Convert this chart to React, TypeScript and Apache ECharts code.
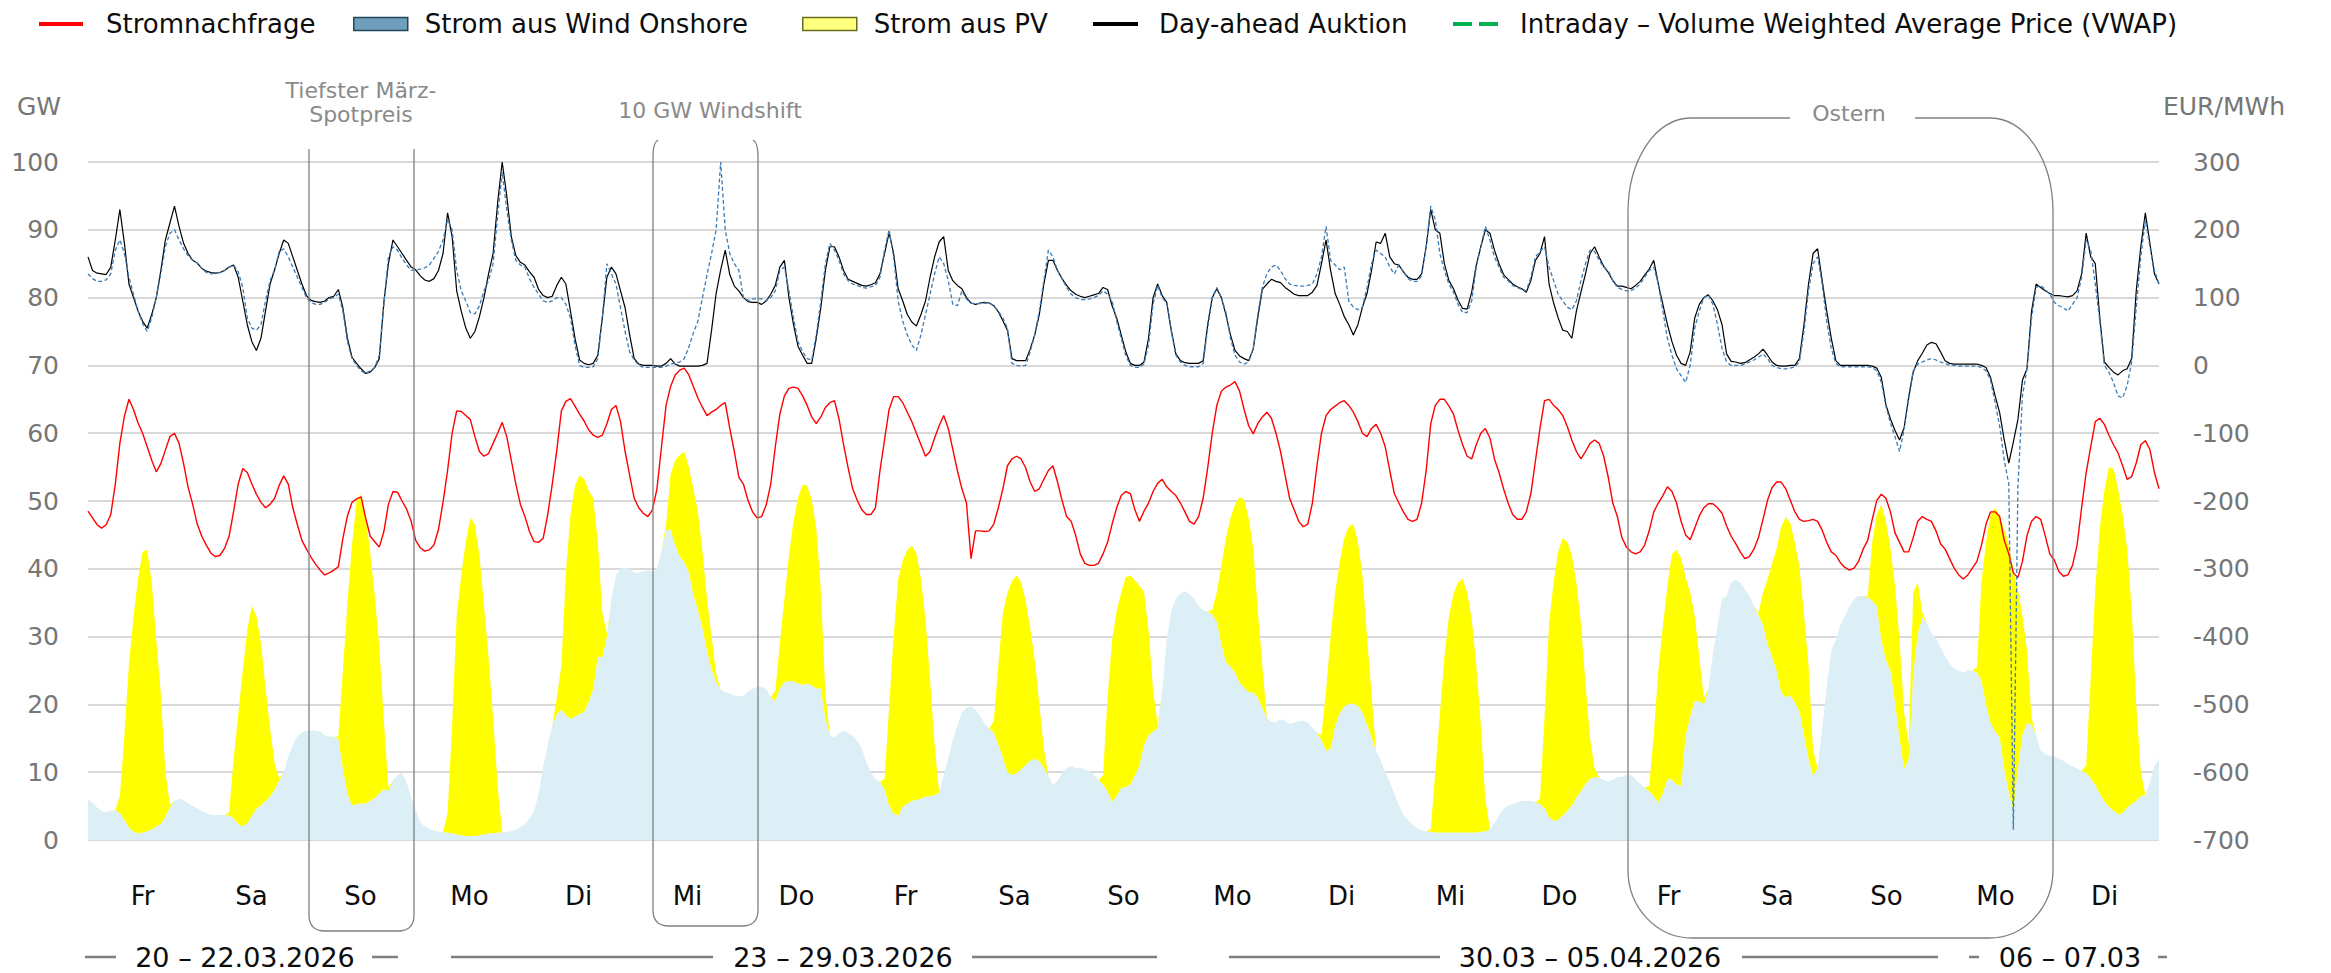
import React, { useEffect, useRef } from "react";
import * as echarts from "echarts";

const FONT = '"DejaVu Sans", "Liberation Sans", sans-serif';

// ---------- categories ----------
const dayNames = ["Fr", "Sa", "So", "Mo", "Di", "Mi", "Do", "Fr", "Sa", "So", "Mo", "Di", "Mi", "Do", "Fr", "Sa", "So", "Mo", "Di"];
const dayDates = ["20.03", "21.03", "22.03", "23.03", "24.03", "25.03", "26.03", "27.03", "28.03", "29.03", "30.03", "31.03", "01.04", "02.04", "03.04", "04.04", "05.04", "06.04", "07.04"];
const weekRangeLabels = ["20 – 22.03.2026", "23 – 29.03.2026", "30.03 – 05.04.2026", "06 – 07.03"];
const annotationLabels = ["Tiefster März-", "Spotpreis", "10 GW Windshift", "Ostern"];

// ---------- hourly values (one row per day, 24 values) ----------
// Stromnachfrage, GW
const demandGW = [
  48.5, 47.5, 46.5, 46, 46.5, 48, 52.5, 58.5, 62.5, 65, 63.5, 61.5, 60, 58, 56, 54.3, 55.5, 57.5, 59.5, 60, 58.5, 55.5, 52, 49.5,
  46.6, 44.8, 43.5, 42.3, 41.8, 42, 43, 44.8, 48.5, 52.5, 54.8, 54.2, 52.5, 51, 49.8, 49, 49.5, 50.4, 52.3, 53.7, 52.5, 49, 46.5, 44.2,
  42.9, 41.7, 40.7, 39.8, 39.1, 39.4, 39.8, 40.3, 44.5, 47.8, 49.8, 50.3, 50.6, 47.5, 44.8, 44, 43.2, 45.5, 49.5, 51.4, 51.3, 50, 48.8, 47,
  44.2, 43.1, 42.6, 42.8, 43.5, 45.8, 49.8, 54.5, 60, 63.3, 63.2, 62.6, 62, 59.5, 57.3, 56.6, 57, 58.5, 60, 61.6, 59.5, 56, 52.5, 49.5,
  47.7, 45.5, 44, 43.9, 44.5, 48, 52.5, 57.5, 63.3, 64.7, 65.1, 64, 62.8, 61.8, 60.5, 59.7, 59.4, 59.7, 61.4, 63.5, 64.1, 61.7, 57.3, 53.8,
  50.4, 49, 48.2, 47.7, 48.7, 51.8, 58, 64.1, 66.9, 68.6, 69.3, 69.6, 68.6, 66.9, 65.2, 63.8, 62.6, 63.1, 63.5, 64.1, 64.5, 60.7, 57.3, 53.5,
  52.5, 50.1, 48.4, 47.5, 47.7, 49.4, 52.5, 58, 62.8, 65.5, 66.6, 66.8, 66.6, 65.5, 64.1, 62.4, 61.4, 62.4, 63.8, 64.5, 64.8, 62.1, 58.3, 54.9,
  51.8, 50.1, 48.7, 48, 48, 49, 54.5, 59, 63.5, 65.4, 65.4, 64.5, 63.1, 61.7, 60, 58.3, 56.6, 57.3, 59.3, 61.1, 62.6, 60.7, 57.6, 54.5,
  51.8, 49.7, 41.5, 45.6, 45.6, 45.5, 45.6, 46.6, 49, 51.8, 55.2, 56.2, 56.6, 56.2, 54.9, 52.8, 51.4, 51.8, 53.2, 54.5, 55.2, 52.8, 50.1, 47.7,
  47, 44.9, 42.2, 40.8, 40.5, 40.5, 40.8, 42.2, 43.9, 46.6, 49, 50.8, 51.4, 51.1, 48.7, 47, 48.5, 49.7, 51.4, 52.6, 53.2, 52.1, 51.4, 50.8,
  49.7, 48.4, 47, 46.6, 47.7, 50.4, 54.9, 60, 64.1, 66.2, 66.8, 67.1, 67.6, 66.2, 63.5, 61.1, 59.9, 61.4, 62.4, 63.1, 62.2, 60, 57.3, 53.8,
  50.4, 48.7, 47, 46.2, 46.6, 49.7, 55.2, 60, 62.6, 63.5, 64, 64.5, 64.8, 64.1, 63.1, 61.7, 60, 59.5, 60.7, 61.3, 60, 58, 54.5, 51.1,
  49.7, 48.4, 47.3, 47, 47.3, 49.7, 54.5, 61.4, 64.1, 65, 65, 64, 62.8, 60.4, 58.3, 56.6, 56.2, 58.3, 60, 60.7, 59.3, 56.2, 54.2, 51.8,
  49.7, 48, 47.3, 47.3, 48.4, 51.1, 55.9, 60.7, 64.8, 65, 64.1, 63.5, 62.6, 61, 59, 57.3, 56.2, 57.3, 58.5, 59, 58.5, 56.6, 53.5, 49.7,
  47.7, 44.6, 43.2, 42.5, 42.2, 42.5, 43.5, 45.6, 48.4, 49.7, 50.8, 52.1, 51.4, 49.7, 47, 45, 44.3, 46, 47.8, 49, 49.6, 49.6, 49, 48.2,
  46.3, 44.8, 43.7, 42.5, 41.5, 41.8, 42.9, 44.6, 47.3, 50.1, 52, 52.8, 52.8, 51.8, 50.1, 48.4, 47.3, 47, 47.1, 47.3, 47, 45.7, 43.9, 42.5,
  42, 40.9, 40.2, 39.8, 40.1, 41.1, 42.9, 44.2, 47.3, 50.1, 51, 50.4, 48.4, 45.3, 43.9, 42.5, 42.5, 44.6, 47, 47.7, 47.3, 47, 45.6, 43.7,
  42.9, 41.5, 40.1, 39.1, 38.5, 39.1, 40.1, 41.1, 43.5, 46.6, 48.4, 48.4, 47.7, 44.2, 42.2, 39.4, 38.7, 41.1, 44.9, 47, 47.7, 47.3, 44.9, 42.2,
  41.3, 39.6, 38.9, 39.1, 40.5, 43.5, 49, 54.2, 58, 61.7, 62.2, 61.3, 59.7, 58.3, 57.1, 55.2, 53.2, 53.6, 55.6, 58.3, 58.9, 57.6, 54.2, 51.8,
];

// Strom aus Wind Onshore, GW
const windOnshoreGW = [
  6, 5.5, 4.8, 4.3, 4.1, 4.3, 4.4, 4, 3, 1.8, 1.2, 1, 1.1, 1.3, 1.6, 2, 2.4, 3.4, 4.8, 5.8, 6.1, 5.9, 5.4, 5,
  4.7, 4.3, 4, 3.7, 3.7, 3.7, 3.7, 3.6, 3.2, 2.4, 2, 2.5, 3.6, 4.6, 5.1, 5.8, 6.4, 7.4, 8.8, 9.9, 12.3, 14, 15.3, 15.9,
  16.1, 16.2, 16.1, 16, 15.4, 15.3, 15.2, 15, 10.5, 6.8, 5.1, 5.3, 5.4, 5.4, 5.8, 6.2, 6.9, 7.5, 7.3, 8.8, 9.6, 9.9, 8.5, 6.3,
  4.4, 2.6, 2, 1.6, 1.4, 1.2, 1.1, 1.1, 1, 0.8, 0.7, 0.6, 0.6, 0.6, 0.7, 0.8, 1, 1, 1.1, 1.1, 1.2, 1.3, 1.5, 1.9,
  2.3, 3.2, 4.2, 6.8, 10.8, 14, 16.9, 18.6, 19.2, 18.4, 17.9, 18.2, 18.6, 18.9, 20.4, 22.3, 27, 27, 30, 35.5, 39, 40, 40.1, 40,
  39.4, 39.4, 39.6, 39.8, 39.6, 40, 42.6, 45.7, 45.8, 43.5, 41.8, 41, 39.5, 36.2, 33.9, 31.2, 27.9, 25.2, 23.3, 22.2, 21.8, 21.6, 21.3, 21.2,
  21.2, 21.9, 22.3, 22.6, 22.6, 22.3, 21, 20.5, 22.3, 23.3, 23.5, 23.4, 23.1, 22.9, 23.1, 22.8, 22.4, 22.3, 18, 15.4, 15.1, 15.8, 16.1, 15.8,
  15.4, 14.6, 13.5, 11.5, 10, 9, 8.6, 7.5, 5.1, 3.9, 3.6, 4.9, 5.4, 5.8, 5.9, 6.1, 6.4, 6.5, 6.6, 7, 9.5, 12, 14.8, 16.8,
  18.8, 19.5, 19.7, 19.2, 18.2, 17.1, 16.4, 15.9, 14, 12.2, 10, 9.6, 9.9, 10.4, 11.1, 11.7, 12, 11.6, 10.7, 9.4, 8.1, 8.7, 9.9, 10.6,
  10.9, 10.6, 10.6, 10.4, 10.1, 9.6, 8.9, 8.2, 7.2, 5.6, 6.5, 7.7, 7.8, 8.2, 9.5, 11, 14, 15.4, 16, 16.5, 21.9, 29.5, 33.9, 35.6,
  36.3, 36.7, 36.3, 35.6, 34.6, 33.9, 33.7, 33.3, 32.2, 29, 26.2, 25.6, 24.7, 23.2, 22.5, 21.8, 21.8, 21, 19.5, 18, 17.4, 17.4, 17.8, 17.6,
  17.1, 17.3, 17.6, 17.6, 17.3, 16.6, 15.8, 14.7, 13.2, 13.5, 16.8, 18.7, 19.7, 20.1, 20.1, 19.8, 18.8, 17, 15.2, 13.1, 11.8, 10, 8.5, 6.9,
  5.1, 3.7, 3, 2.2, 1.8, 1.4, 1.3, 1.2, 1.1, 1.1, 1.1, 1.1, 1.1, 1.1, 1.1, 1.1, 1.1, 1.1, 1.2, 1.3, 1.6, 2.5, 3.6, 4.6,
  5.1, 5.3, 5.5, 5.8, 5.8, 5.8, 5.6, 5.3, 4.7, 3.4, 2.8, 3, 3.6, 4.3, 5.1, 6.3, 7.2, 8.3, 9, 9.3, 9.3, 8.8, 8.6, 8.9,
  9.3, 9.3, 9.7, 9.6, 9, 8.3, 7.7, 7.2, 6.5, 5.5, 6.9, 9, 8.9, 8.2, 8, 15.4, 18.2, 20.5, 20.5, 20, 22.3, 27.5, 31.5, 35.5,
  36, 38, 38.4, 38, 37, 36, 34.6, 33.2, 31.7, 29, 27, 25, 21.8, 21, 21.3, 20.3, 19, 15.5, 12, 9.5, 10.6, 16.5, 22.5, 28,
  29.5, 31.7, 33, 34.5, 35.5, 36, 36, 35.8, 35.3, 34.5, 29.5, 26.6, 25, 20.3, 15, 10.5, 12, 24.5, 30.5, 32.8, 32, 30.5, 29.8, 28.4,
  27.1, 26, 25.3, 25, 24.7, 25, 25, 24.7, 23.5, 20, 17.3, 16, 15.2, 10.5, 7, 4.4, 10.5, 15.5, 17.3, 17, 15.5, 13.2, 12.7, 12.4,
  12.3, 12, 11.7, 11.2, 10.9, 10.5, 10.2, 9.9, 9.1, 8.1, 6.8, 5.7, 4.9, 4.3, 3.8, 4, 4.8, 5.3, 5.8, 6.5, 6.6, 8.5, 11, 12,
];

// Strom aus PV, GW (drawn stacked on wind)
const pvGW = [
  0, 0, 0, 0, 0, 0, 0, 2.5, 12.4, 24.2, 31.8, 37.5, 41.4, 41.5, 36.4, 27.5, 19.1, 6.6, 0.4, 0, 0, 0, 0, 0,
  0, 0, 0, 0, 0, 0, 0, 0.5, 8.8, 16.1, 23, 28.5, 30.9, 28.4, 23.9, 16.7, 10.1, 3.9, 0.3, 0, 0, 0, 0, 0,
  0, 0, 0, 0, 0, 0, 0, 0.3, 14.5, 28.2, 38.4, 44.7, 45.6, 42.1, 36.7, 29.8, 21.6, 10, 0.5, 0, 0, 0, 0, 0,
  0, 0, 0, 0, 0, 0, 0, 2.9, 16, 32.2, 38.3, 43.4, 46.9, 45.9, 41.3, 33.7, 26, 17, 6.9, 0, 0, 0, 0, 0,
  0, 0, 0, 0, 0, 0, 0, 2.4, 6.5, 21.1, 30.1, 34.1, 35.2, 34.4, 31.1, 28.1, 17, 6.5, 0.5, 0, 0, 0, 0, 0,
  0, 0, 0, 0, 0, 0, 0, 0.8, 8.2, 12.5, 15, 16.3, 15.5, 15.6, 14.5, 11.3, 7.6, 4.8, 1.2, 0, 0, 0, 0, 0,
  0, 0, 0, 0, 0, 0, 0, 1.5, 6.7, 12.2, 18.5, 23.6, 27.4, 29.5, 29.2, 27.4, 23.6, 14.7, 3.5, 0, 0, 0, 0, 0,
  0, 0, 0, 0, 0, 0, 0, 1.5, 14.4, 26.1, 34.9, 36.3, 37.4, 37.6, 36.4, 32.4, 26.1, 17.1, 7.4, 0, 0, 0, 0, 0,
  0, 0, 0, 0, 0, 0, 0, 1.6, 11.7, 21.3, 26.4, 28.6, 29.1, 27.6, 24.2, 19.6, 14.5, 8.4, 2.8, 0, 0, 0, 0, 0,
  0, 0, 0, 0, 0, 0, 0, 1.3, 13.8, 23.9, 27.3, 28.8, 31, 30.8, 28.8, 26.5, 22.6, 15.6, 6, 0.5, 0, 0, 0, 0,
  0, 0, 0, 0, 0, 0, 0, 0.7, 4.3, 11.5, 18.3, 21.9, 24.8, 27.4, 27.7, 25.7, 21.2, 13, 6.2, 0, 0, 0, 0, 0,
  0, 0, 0, 0, 0, 0, 0, 0.8, 8.8, 16.5, 19.7, 22.3, 24.8, 26.1, 26.5, 24.2, 20.2, 13, 6.3, 0, 0, 0, 0, 0,
  0, 0, 0, 0, 0, 0, 0, 0.4, 8.9, 17.4, 25.9, 31.9, 35.2, 36.9, 37.4, 35.4, 31.5, 24.8, 15.8, 4.7, 0, 0, 0, 0,
  0, 0, 0, 0, 0, 0, 0, 0.7, 13.3, 28.6, 35.2, 39.5, 40.9, 39.7, 36.9, 31.7, 24.7, 14.7, 6, 1.2, 0, 0, 0, 0,
  0, 0, 0, 0, 0, 0, 0, 0.8, 9, 19.5, 24.6, 28.5, 33.3, 34.6, 33.6, 23.3, 18.3, 12.5, 6.5, 1, 0, 0, 0, 0,
  0, 0, 0, 0, 0, 0, 0, 0.3, 4.8, 9.5, 13.8, 18, 24.4, 26.6, 25.4, 23.5, 21.3, 17.7, 13.7, 3.8, 0, 0, 0, 0,
  0, 0, 0, 0, 0, 0, 0, 0.2, 8.7, 13.5, 20, 20.4, 18, 17.2, 14.5, 8.3, 2, 12, 7.5, 0.7, 0, 0, 0, 0,
  0, 0, 0, 0, 0, 0, 0, 0.8, 14.5, 24, 30.7, 33, 32.6, 35.3, 36.6, 35.4, 26.5, 17.5, 10.7, 1, 0, 0, 0, 0,
  0, 0, 0, 0, 0, 0, 0, 1.1, 14.9, 28.9, 39.2, 45.8, 50.1, 50.5, 48, 44, 38.2, 28.7, 14.2, 3.6, 0, 0, 0, 0,
];

// Day-ahead Auktion, EUR/MWh
const dayAheadEUR = [
  160, 140, 136, 135, 134, 145, 185, 230, 180, 120, 100, 80, 65, 55, 75, 100, 140, 185, 210, 235, 205, 180, 165, 155,
  151, 143, 139, 137, 136, 137, 140, 145, 148, 130, 95, 60, 35, 22, 40, 80, 120, 141, 165, 185, 180, 160, 140, 120,
  103, 96, 94, 93, 95, 100, 102, 112, 85, 40, 12, 3, -5, -12, -10, -3, 10, 93, 150, 185, 175, 165, 155, 145,
  141, 132, 126, 124, 128, 140, 165, 225, 190, 110, 80, 55, 40, 50, 72, 100, 135, 165, 240, 300, 250, 190, 162, 152,
  148, 138, 130, 112, 103, 100, 102, 118, 130, 120, 80, 40, 8, 3, 1, 3, 15, 70, 130, 145, 135, 110, 85, 45,
  10, 2, 0, 0, 0, -1, -1, 3, 10, 2, -1, -1, -1, -1, -1, 0, 3, 52, 106, 141, 170, 134, 117, 110,
  100, 94, 93, 93, 90, 95, 105, 118, 145, 155, 100, 60, 28, 15, 3, 3, 40, 85, 140, 175, 175, 160, 140, 127,
  124, 121, 118, 117, 119, 122, 135, 165, 196, 165, 113, 95, 75, 64, 58, 75, 95, 130, 160, 182, 190, 140, 125, 118,
  113, 100, 92, 90, 92, 93, 92, 88, 79, 66, 52, 10, 7, 7, 7, 24, 45, 75, 120, 155, 155, 140, 128, 118,
  110, 105, 102, 100, 102, 104, 106, 115, 112, 88, 70, 45, 20, 3, 0, 0, 5, 40, 100, 120, 103, 93, 52, 17,
  7, 4, 3, 3, 3, 7, 60, 100, 113, 100, 75, 45, 22, 14, 10, 7, 24, 70, 112, 120, 127, 124, 122, 115,
  110, 105, 103, 103, 103, 108, 118, 150, 185, 140, 106, 90, 72, 60, 45, 60, 86, 106, 140, 182, 180, 195, 160, 150,
  148, 138, 130, 127, 127, 135, 175, 230, 200, 195, 150, 125, 113, 96, 84, 83, 108, 148, 175, 200, 195, 170, 150, 134,
  127, 120, 116, 113, 108, 125, 155, 165, 190, 120, 92, 70, 52, 50, 40, 80, 108, 135, 165, 175, 160, 146, 137, 125,
  117, 117, 115, 113, 118, 124, 133, 142, 155, 120, 90, 60, 35, 15, 3, 0, 20, 70, 90, 100, 104, 95, 82, 60,
  17, 6, 5, 3, 4, 8, 12, 17, 24, 15, 5, 0, -1, -1, 0, 0, 10, 60, 120, 165, 172, 125, 80, 40,
  7, 0, 0, 0, 0, 0, 0, 0, -1, -4, -18, -58, -79, -96, -110, -92, -48, -10, 7, 18, 30, 34, 32, 20,
  7, 3, 2, 2, 2, 2, 2, 2, 0, -3, -18, -45, -70, -110, -144, -113, -80, -22, -5, 80, 120, 115, 110, 106,
  103, 103, 102, 101, 103, 110, 135, 195, 160, 150, 70, 5, -3, -10, -14, -8, -5, 10, 110, 175, 225, 180, 135, 120,
];

// Intraday – VWAP, EUR/MWh
const intradayVwapEUR = [
  135, 128, 124, 124, 126, 135, 170, 185, 165, 130, 105, 80, 62, 50, 70, 100, 135, 175, 195, 200, 185, 172, 162, 155,
  151, 143, 137, 135, 136, 137, 140, 145, 148, 138, 115, 70, 55, 52, 60, 95, 125, 141, 168, 172, 160, 145, 130, 115,
  100, 93, 90, 90, 93, 98, 100, 105, 80, 35, 10, 0, -8, -12, -8, -3, 15, 90, 160, 175, 170, 158, 148, 140,
  141, 142, 144, 148, 158, 168, 185, 215, 200, 140, 110, 95, 78, 76, 88, 110, 125, 150, 220, 285, 230, 185, 155, 148,
  145, 128, 115, 105, 95, 93, 95, 100, 100, 90, 70, 30, 0, -3, -3, -2, 10, 70, 150, 135, 120, 85, 50, 20,
  8, 0, -3, -3, -3, -3, -3, -1, 2, 3, 5, 10, 27, 48, 65, 100, 134, 165, 200, 300, 200, 165, 150, 140,
  100, 96, 98, 98, 98, 95, 100, 110, 140, 145, 110, 70, 35, 20, 10, 8, 45, 95, 150, 180, 170, 155, 135, 125,
  120, 118, 115, 114, 116, 118, 130, 170, 200, 160, 95, 65, 45, 30, 22, 45, 75, 105, 135, 160, 150, 125, 90, 88,
  110, 98, 92, 91, 91, 92, 92, 88, 80, 70, 55, 3, 0, -1, 0, 20, 45, 80, 125, 170, 160, 140, 128, 115,
  105, 100, 97, 97, 98, 100, 103, 110, 105, 95, 65, 40, 15, 0, -3, -3, 2, 30, 90, 118, 100, 92, 50, 15,
  5, 0, -2, -2, -2, 3, 55, 100, 115, 100, 78, 40, 15, 5, 2, 5, 25, 75, 115, 135, 145, 148, 140, 128,
  120, 118, 117, 117, 118, 120, 135, 160, 205, 155, 148, 141, 145, 95, 86, 82, 86, 115, 150, 170, 165, 160, 145, 135,
  148, 138, 128, 124, 124, 132, 175, 235, 215, 165, 140, 120, 108, 90, 78, 78, 95, 145, 175, 205, 185, 160, 145, 130,
  125, 118, 115, 112, 110, 130, 160, 168, 175, 145, 125, 105, 95, 86, 82, 95, 125, 150, 170, 168, 155, 145, 140, 125,
  115, 112, 110, 110, 114, 120, 130, 140, 145, 120, 80, 40, 15, -5, -15, -25, 0, 55, 80, 100, 104, 90, 60, 25,
  5, 0, 0, 0, 2, 5, 8, 12, 17, 10, 0, -3, -5, -5, -4, -2, 5, 50, 110, 150, 160, 120, 65, 25,
  3, -2, -2, -2, -2, -2, -2, -2, -3, -8, -25, -60, -85, -105, -127, -95, -45, -8, 2, 5, 8, 10, 8, 5,
  3, 0, 0, -1, -1, -1, -1, -1, -3, -8, -22, -55, -90, -140, -175, -685, -180, -45, -5, 70, 115, 118, 112, 105,
  93, 88, 85, 80, 90, 100, 130, 185, 170, 120, 65, 0, -10, -25, -45, -48, -30, 5, 85, 160, 215, 175, 140, 120,
];

// ---------- annotation outlines (decoration) ----------
echarts.graphic.registerShape(
  "annotBoxSo",
  echarts.graphic.extendPath("M309 149 L309 915 Q309 931 325 931 L398 931 Q414 931 414 915 L414 149", {})
);
echarts.graphic.registerShape(
  "annotBoxMi",
  echarts.graphic.extendPath("M658 140 Q653 143 653 156 L653 910 Q653 926 669 926 L742 926 Q758 926 758 910 L758 156 Q758 143 753 140", {})
);
echarts.graphic.registerShape(
  "annotBoxOstern",
  echarts.graphic.extendPath(
    "M1790 118 L1690 118 A62 94 0 0 0 1628 212 L1628 870 A64 68 0 0 0 1692 938 L1989 938 A64 68 0 0 0 2053 870 L2053 212 A62 94 0 0 0 1991 118 L1915 118",
    {}
  )
);

// hourly category keys built from the day list
const hourKeys: string[] = [];
dayDates.forEach((d) => {
  for (let h = 0; h < 24; h++) hourKeys.push(`${d} ${h}:00`);
});

function buildOption() {
  const gray = "#808080";
  const legendText = { fontFamily: FONT, fontSize: 26, color: "#0d0d0d" };
  const mkLegend = (left: number, name: string, icon: string, w: number, h: number, itemStyle: any, pad: number) => ({
    left,
    top: 6,
    selectedMode: false,
    itemWidth: w,
    itemHeight: h,
    itemGap: 0,
    data: [{ name, icon, itemStyle }],
    textStyle: { ...legendText, padding: [0, 0, 0, pad] },
  });

  const bracketY = 957;
  const bracketSegs = [[85, 116], [372, 398], [451, 713], [972, 1157], [1229, 1440], [1742, 1938], [1969, 1979], [2158, 2167]];
  const bracketTextX = [245, 843, 1590, 2070];

  const graphics: any[] = [];
  graphics.push({ type: "annotBoxSo", x: 0, y: 0, z: 100, silent: true, style: { fill: "none", stroke: gray, lineWidth: 1.3 } });
  graphics.push({ type: "annotBoxMi", x: 0, y: 0, z: 100, silent: true, style: { fill: "none", stroke: gray, lineWidth: 1.3 } });
  graphics.push({ type: "annotBoxOstern", x: 0, y: 0, z: 100, silent: true, style: { fill: "none", stroke: gray, lineWidth: 1.3 } });
  const annotPos = [[361, 90], [361, 114], [710, 110], [1849, 113]];
  annotationLabels.forEach((t, i) => {
    graphics.push({
      type: "text", x: annotPos[i][0], y: annotPos[i][1], z: 100, silent: true,
      style: { text: t, fill: "#8a8a8a", fontSize: 22, fontFamily: FONT, textAlign: "center", textVerticalAlign: "middle" },
    });
  });
  bracketSegs.forEach(([a, b]) => {
    graphics.push({ type: "line", z: 100, silent: true, shape: { x1: a, y1: bracketY, x2: b, y2: bracketY }, style: { stroke: "#7f7f7f", lineWidth: 2.5 } });
  });
  weekRangeLabels.forEach((t, i) => {
    graphics.push({
      type: "text", x: bracketTextX[i], y: bracketY, z: 100, silent: true,
      style: { text: t, fill: "#0d0d0d", fontSize: 27, fontFamily: FONT, textAlign: "center", textVerticalAlign: "middle" },
    });
  });

  const axisLabelStyle = { fontFamily: FONT, fontSize: 25, color: "#767676" };
  const lineBase = { type: "line", xAxisIndex: 0, symbol: "none", showSymbol: false, emphasis: { disabled: true }, silent: true };

  return {
    animation: false,
    textStyle: { fontFamily: FONT },
    grid: { left: 88, top: 162, width: 2071, height: 678, containLabel: false },
    legend: [
      mkLegend(34, "Stromnachfrage", "rect", 44, 4, { color: "#FF0000", borderWidth: 0 }, 18),
      mkLegend(348, "Strom aus Wind Onshore", "rect", 54, 13, { color: "#6F9FBB", borderColor: "#24465C", borderWidth: 1.5 }, 12),
      mkLegend(797, "Strom aus PV", "rect", 54, 13, { color: "#FFFF80", borderColor: "#6B6B1F", borderWidth: 1.5 }, 12),
      mkLegend(1088, "Day-ahead Auktion", "rect", 45, 4, { color: "#000000", borderWidth: 0 }, 16),
      mkLegend(1448, "Intraday – Volume Weighted Average Price (VWAP)", "path://M0 0H19V4H0ZM26 0H45V4H26Z", 45, 4, { color: "#00B050", borderWidth: 0 }, 17),
    ],
    xAxis: [
      { type: "category", data: hourKeys, boundaryGap: false, show: false },
      {
        type: "category",
        data: dayDates,
        boundaryGap: true,
        position: "bottom",
        axisLine: { show: false },
        axisTick: { show: false },
        splitLine: { show: false },
        axisLabel: {
          interval: 0, margin: 43, fontSize: 26, color: "#0d0d0d", fontFamily: FONT,
          formatter: (_v: string, i: number) => dayNames[i],
        },
      },
    ],
    yAxis: [
      {
        type: "value", min: 0, max: 100, interval: 10, position: "left",
        name: "GW", nameLocation: "end", nameGap: 56,
        nameTextStyle: { ...axisLabelStyle, align: "right", verticalAlign: "middle", padding: [0, 27, 0, 0] },
        axisLine: { show: false }, axisTick: { show: false },
        axisLabel: { ...axisLabelStyle, margin: 29 },
        splitLine: { show: true, lineStyle: { color: "#d9d9d9", width: 2 } },
      },
      {
        type: "value", min: -700, max: 300, interval: 100, position: "right",
        name: "EUR/MWh", nameLocation: "end", nameGap: 56,
        nameTextStyle: { ...axisLabelStyle, align: "left", verticalAlign: "middle", padding: [0, 0, 0, 4] },
        axisLine: { show: false }, axisTick: { show: false },
        axisLabel: { ...axisLabelStyle, margin: 34 },
        splitLine: { show: false },
      },
    ],
    series: [
      {
        ...lineBase, name: "Strom aus Wind Onshore", yAxisIndex: 0, stack: "erzeugung",
        data: windOnshoreGW,
        lineStyle: { width: 0 }, areaStyle: { color: "#DDEFF6", opacity: 1 },
        itemStyle: { color: "#6F9FBB" },
      },
      {
        ...lineBase, name: "Strom aus PV", yAxisIndex: 0, stack: "erzeugung",
        data: pvGW,
        lineStyle: { width: 0 }, areaStyle: { color: "#FFFF00", opacity: 1 },
        itemStyle: { color: "#FFFF80" },
      },
      {
        ...lineBase, name: "Stromnachfrage", yAxisIndex: 0,
        data: demandGW,
        lineStyle: { color: "#FF0000", width: 1.4 }, itemStyle: { color: "#FF0000" },
      },
      {
        ...lineBase, name: "Day-ahead Auktion", yAxisIndex: 1,
        data: dayAheadEUR,
        lineStyle: { color: "#000000", width: 1.2 }, itemStyle: { color: "#000000" },
      },
      {
        ...lineBase, name: "Intraday – Volume Weighted Average Price (VWAP)", yAxisIndex: 1,
        data: intradayVwapEUR,
        lineStyle: { color: "#3C7BB5", width: 1.3, type: [4, 2.5] }, itemStyle: { color: "#00B050" },
      },
    ],
    graphic: { elements: graphics },
  };
}

export default function App() {
  const ref = useRef<HTMLDivElement>(null);
  useEffect(() => {
    if (!ref.current) return;
    const chart = echarts.init(ref.current, undefined, { renderer: "svg", width: 2331, height: 973 });
    chart.setOption(buildOption() as any);
    return () => chart.dispose();
  }, []);
  return (
    <div
      ref={ref}
      style={{ position: "fixed", left: 0, top: 0, width: 2331, height: 973, background: "#ffffff" }}
    />
  );
}
